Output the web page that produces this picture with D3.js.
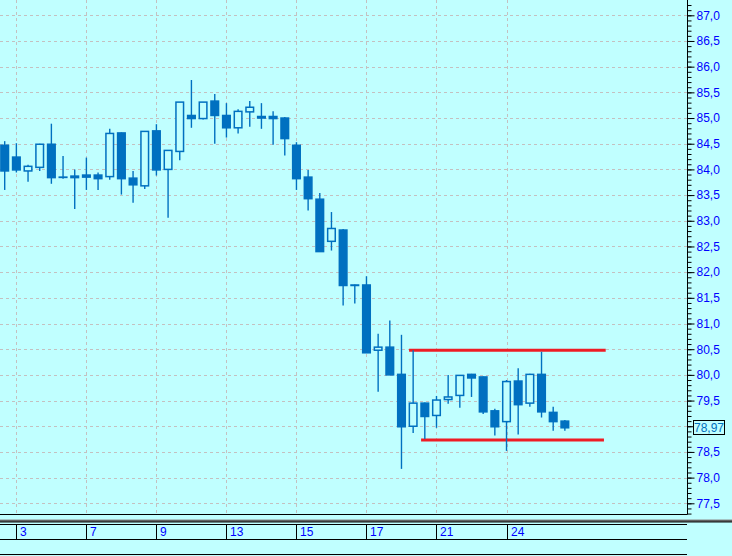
<!DOCTYPE html>
<html><head><meta charset="utf-8">
<script src="https://cdn.jsdelivr.net/npm/d3@7"></script>
<style>body{margin:0;background:#c0ffff;} svg{display:block}</style>
</head><body><svg id="c" width="732" height="556"></svg>
<script>
const openP  = [84.47,84.24,83.97,84.04,84.49,83.85,83.87,83.89,83.89,83.86,84.71,83.83,83.68,84.75,84.00,84.35,85.05,84.99,85.33,85.05,84.81,85.12,85.03,85.03,85.00,84.47,83.85,83.42,82.60,82.82,81.74,81.75,80.48,80.54,80.01,79.00,79.45,79.21,79.52,79.60,80.01,79.96,79.30,79.09,79.88,79.45,80.01,79.27,79.10];
const highP  = [84.55,84.51,84.09,84.50,84.89,84.26,84.00,84.23,83.94,84.79,84.72,83.97,84.75,84.88,84.38,85.31,85.74,85.31,85.47,85.29,85.17,85.33,85.29,85.13,85.02,84.53,83.99,83.54,83.17,82.84,81.76,81.92,80.80,81.06,80.78,80.48,79.46,79.59,80.00,80.00,80.02,79.97,79.34,79.90,80.13,80.02,80.45,79.38,79.12];
const lowP   = [83.60,83.94,83.76,83.97,83.72,83.82,83.23,83.60,83.60,83.80,83.51,83.35,83.62,83.88,83.06,84.18,84.81,84.97,84.50,84.62,84.70,84.83,84.79,84.48,84.27,83.60,83.20,82.40,82.42,81.35,81.39,80.43,79.67,80.00,78.17,78.87,78.75,78.97,79.44,79.36,79.57,79.24,78.82,78.52,78.84,79.38,79.17,78.91,78.91];
const closeP = [83.97,83.99,84.06,84.49,83.84,83.85,83.84,83.85,83.82,84.70,83.82,83.70,84.74,83.99,84.37,85.31,84.99,85.31,85.05,84.81,85.13,85.21,85.00,84.99,84.60,83.82,83.43,82.40,82.85,81.74,81.75,80.43,80.54,80.00,78.99,79.45,79.19,79.51,79.57,79.99,79.94,79.28,78.99,79.87,79.42,80.01,79.28,79.09,78.97];
const dateTickIndex  = [1,7,13,19,25,31,37,43];
const dateTickLabels = ["3","7","9","13","15","17","21","24"];
const priceTickValues = [77.5,78.0,78.5,79.0,79.5,80.0,80.5,81.0,81.5,82.0,82.5,83.0,83.5,84.0,84.5,85.0,85.5,86.0,86.5,87.0];
const levelPrice = [80.48, 78.73];
const levelFrom  = [34.65, 35.68];
const levelTo    = [51.5, 51.35];
const lastPrice = 78.97;

const BG = "#c0ffff", CANDLE = "#0070c0", TEXT = "#0000ff";
const FONT = "'Liberation Sans', Arial, sans-serif";
const plotRight = 687, plotBottom = 514;
const svg = d3.select("#c");
svg.append("rect").attr("width",732).attr("height",556).attr("fill",BG);

const x = d3.scaleLinear().domain([0, 48]).range([4.7, 4.7 + 48*11.67]);
const y = d3.scaleLinear().domain([87, 77.5]).range([15.3, 503.3]);

const candles = openP.map((o,i)=>({i, o, h:highP[i], l:lowP[i], c:closeP[i]}));

// grid
const grid = svg.append("g").attr("stroke","#c4c0c0").attr("stroke-width",1).attr("stroke-dasharray","3,3");
grid.selectAll("line.h").data(priceTickValues).join("line")
  .attr("x1",0).attr("x2",plotRight).attr("y1",d=>Math.round(y(d))+0.5).attr("y2",d=>Math.round(y(d))+0.5);
grid.selectAll("line.v").data(dateTickIndex).join("line")
  .attr("y1",0).attr("y2",plotBottom).attr("x1",d=>Math.round(x(d))+0.5).attr("x2",d=>Math.round(x(d))+0.5);

// level lines
svg.append("g").selectAll("line").data(levelPrice).join("line")
  .attr("x1",(d,k)=>x(levelFrom[k])).attr("x2",(d,k)=>x(levelTo[k]))
  .attr("y1",d=>y(d)).attr("y2",d=>y(d))
  .attr("stroke","#ee1c25").attr("stroke-width",3);

// candles
const bw = 7.6;
const cg = svg.append("g");
cg.selectAll("line.w").data(candles).join("line")
  .attr("x1",d=>x(d.i)).attr("x2",d=>x(d.i))
  .attr("y1",d=>y(d.h)).attr("y2",d=>y(d.l))
  .attr("stroke",CANDLE).attr("stroke-width",1.4);
cg.selectAll("rect.b").data(candles).join("rect")
  .attr("x",d=>x(d.i)-bw/2).attr("width",bw)
  .attr("y",d=>y(Math.max(d.o,d.c)))
  .attr("height",d=>Math.max(0.3, Math.abs(y(d.o)-y(d.c))))
  .attr("fill",d=>d.c>=d.o?BG:CANDLE)
  .attr("stroke",CANDLE).attr("stroke-width",1.5);

// plot border
svg.append("line").attr("x1",plotRight+0.5).attr("x2",plotRight+0.5).attr("y1",0).attr("y2",plotBottom+0.5).attr("stroke","#000");
svg.append("line").attr("x1",0).attr("x2",plotRight+0.5).attr("y1",plotBottom+0.5).attr("y2",plotBottom+0.5).attr("stroke","#000");

// right axis
const ly = y(lastPrice);
const ax = svg.append("g").attr("transform",`translate(${plotRight+0.5},0)`);
ax.call(d3.axisRight(y).tickValues(d3.range(773, 873).map(v=>v/10).filter(v=>y(v)>=0 && y(v)<=plotBottom)).tickSize(4).tickFormat(""));
ax.call(g=>g.select(".domain").remove());
const ax2 = svg.append("g").attr("transform",`translate(${plotRight+0.5},0)`);
ax2.call(d3.axisRight(y).tickValues(priceTickValues).tickSize(7).tickPadding(2)
   .tickFormat(d=>Math.abs(y(d)-ly) < 12 ? "" : d3.format(".1f")(d).replace(".",",")));
ax2.call(g=>g.select(".domain").remove());
svg.selectAll(".tick line").attr("stroke","#000");
ax2.selectAll("text").attr("fill",TEXT).attr("font-family",FONT).attr("font-size",12);

// last price box
svg.append("rect").attr("x",693.5).attr("y",Math.round(ly)-7.5).attr("width",31).attr("height",14)
  .attr("fill",BG).attr("stroke","#000").attr("stroke-width",1);
svg.append("text").attr("x",709).attr("y",ly).attr("dy","0.36em").attr("text-anchor","middle")
  .attr("fill",CANDLE).attr("font-family",FONT).attr("font-size",12)
  .text(d3.format(".2f")(lastPrice).replace(".",","));

// separator band
const defs = svg.append("defs");
const gr = defs.append("linearGradient").attr("id","band").attr("x1",0).attr("x2",0).attr("y1",0).attr("y2",1);
gr.append("stop").attr("offset","0%").attr("stop-color","#8a8a8a");
gr.append("stop").attr("offset","100%").attr("stop-color","#101010");
svg.append("rect").attr("x",0).attr("y",519.5).attr("width",732).attr("height",3).attr("fill","url(#band)");

// date strip
const strip = svg.append("g").attr("stroke","#000").attr("stroke-width",1);
[524.5, 539.5, 554.5].forEach(yy=>strip.append("line").attr("x1",0).attr("x2",plotRight).attr("y1",yy).attr("y2",yy));
strip.selectAll("line.s").data(dateTickIndex).join("line")
  .attr("x1",d=>Math.round(x(d))+0.5).attr("x2",d=>Math.round(x(d))+0.5).attr("y1",524.5).attr("y2",539.5);
svg.append("g").selectAll("text").data(dateTickIndex).join("text")
  .attr("x",d=>Math.round(x(d))+4).attr("y",536)
  .attr("fill",TEXT).attr("font-family",FONT).attr("font-size",12)
  .text((d,k)=>dateTickLabels[k]);
</script></body></html>
